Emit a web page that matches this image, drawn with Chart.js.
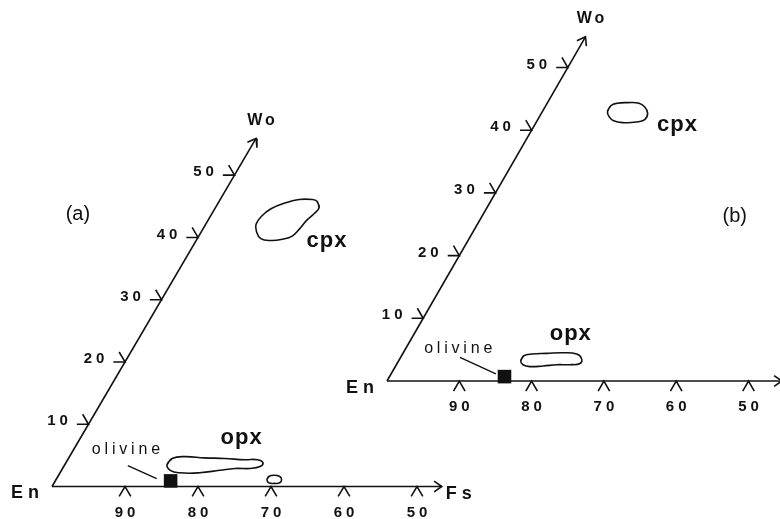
<!DOCTYPE html>
<html>
<head>
<meta charset="utf-8">
<script src="https://cdn.jsdelivr.net/npm/chart.js@4.4.1/dist/chart.umd.min.js"></script>
<style>
  html, body { margin: 0; padding: 0; background: #fff; }
  #wrap { position: relative; width: 780px; height: 519px; }
  #wrap canvas { position: absolute; left: 0; top: 0; }
</style>
</head>
<body>
<div id="wrap">
  <canvas id="chartA" width="780" height="519"></canvas>
  <canvas id="chartB" width="780" height="519"></canvas>
</div>
<script>
// compositions are [Fs, Wo] in mol % (En = 100 - Fs - Wo)
const woTicks = [10, 20, 30, 40, 50];
const enTicks = [90, 80, 70, 60, 50];

// panel (a)
const cpxA = [[13.4,45.8],[14.2,44.8],[14.0,43.8],[13.5,42.7],[13.2,41.3],[12.8,40.2],[11.7,39.7],[10.3,39.5],
              [8.7,39.8],[7.5,41.0],[6.9,42.1],[7.0,43.4],[7.7,44.6],[9.3,45.6],[10.8,46.1],[12.6,46.1]];
const opxA = [[14.0,3.5],[14.2,4.5],[15.8,4.8],[18.6,4.6],[21.4,4.5],[24.3,4.3],[26.0,4.3],[27.0,3.8],
              [26.9,3.2],[25.7,2.9],[23.6,2.9],[21.7,2.6],[19.1,2.2],[16.4,2.2],[14.9,2.6]];
const spotA = [[28.9,1.1],[28.9,1.6],[29.5,1.8],[30.4,1.6],[30.9,1.1],[30.9,0.6],[30.2,0.5],[29.4,0.6]];
const olivineA = [15.8, 0.9];

// panel (b)
const cpxB = [[9.0,43.0],[9.0,43.9],[9.7,44.3],[11.1,44.4],[12.7,44.3],[13.8,43.7],[14.7,42.7],[14.8,41.7],
              [13.8,41.3],[12.2,41.2],[10.6,41.5],[9.6,42.2]];
const opxB = [[16.9,3.2],[16.9,4.0],[17.9,4.3],[19.9,4.4],[22.1,4.5],[24.1,4.3],[25.1,3.6],[25.3,2.8],
              [24.0,2.6],[22.2,2.6],[20.4,2.4],[18.6,2.3],[17.5,2.6]];
const olivineB = [15.9, 0.7];

const INK = '#111';
const FONT = '"Liberation Sans", Arial, sans-serif';
const SQ = Math.sqrt(3) / 2;
const TL = 1.6; // tick leg length, mol %

function toXY(c) { return { x: c[0] + c[1] / 2, y: c[1] * SQ }; }
function closed(arr) { return arr.concat([arr[0], arr[1]]); }

function lineXY(points, extra) {
  return Object.assign({
    data: points, showLine: true, borderColor: INK, borderWidth: 1.6,
    pointRadius: 0, tension: 0, fill: false, clip: false
  }, extra || {});
}
function lineC(comps, extra) { return lineXY(comps.map(toXY), extra); }

function arrowHead(tip, dir) {
  const t = toXY(tip), a = 1.3, ang = 0.62;
  const legs = [-1, 1].map(s => {
    const c = Math.cos(s * ang), n = Math.sin(s * ang);
    const rx = -(dir[0] * c - dir[1] * n), ry = -(dir[0] * n + dir[1] * c);
    return { x: t.x + a * rx, y: t.y + a * ry };
  });
  return lineXY([legs[0], t, legs[1]]);
}

function buildPanel(p) {
  const sets = [];
  // axes
  sets.push(lineC([[0, 0], [p.fsEnd, 0]]));
  sets.push(lineC([[0, 0], [0, p.woEnd]]));
  sets.push(arrowHead([p.fsEnd, 0], [1, 0]));
  sets.push(arrowHead([0, p.woEnd], [0.5, SQ]));
  // ticks
  enTicks.forEach(e => {
    const f = 100 - e;
    sets.push(lineC([[f, -TL], [f, 0], [f + TL, -TL]]));
  });
  woTicks.forEach(w => sets.push(lineC([[-TL, w + TL], [0, w], [-TL, w]])));
  // fields
  p.fields.forEach(f => sets.push(lineC(closed(f), { tension: 0.45 })));
  // olivine
  sets.push(lineC(p.leader, { borderWidth: 1.4 }));
  sets.push({
    data: [toXY(p.olivine)], pointStyle: 'rect', pointRadius: 9.6,
    backgroundColor: INK, borderColor: INK, borderWidth: 0, clip: false
  });
  return sets;
}

const textPlugin = {
  id: 'ternaryText',
  afterDatasetsDraw(chart, args, opts) {
    const ctx = chart.ctx, sx = chart.scales.x, sy = chart.scales.y;
    const put = (comp, dx, dy, text, font, spacing) => {
      const q = toXY(comp);
      ctx.save();
      ctx.font = font;
      ctx.fillStyle = INK;
      ctx.textAlign = 'center';
      ctx.textBaseline = 'middle';
      ctx.letterSpacing = spacing + 'px';
      ctx.fillText(text, sx.getPixelForValue(q.x) + dx + spacing / 2, sy.getPixelForValue(q.y) + dy);
      ctx.restore();
    };
    const tickFont = 'bold 15px ' + FONT;
    woTicks.forEach(w => put([0, w], -31, -3, String(w), tickFont, 4));
    enTicks.forEach(e => put([100 - e, 0], 0, 26, String(e), tickFont, 4));
    put([0, 0], -27, 7, 'En', 'bold 18px ' + FONT, 5);
    if (opts.showFs) put([opts.fsEnd, 0], 17, 8, 'Fs', 'bold 18px ' + FONT, 5);
    put([0, opts.woEnd], 5, -18, 'Wo', 'bold 16px ' + FONT, 3);
    opts.notes.forEach(n => put(n.at, 0, 0, n.text, n.font, n.spacing || 0));
  }
};

function makeChart(p) {
  const [ox, oy] = p.origin, [ux, uy] = p.unit;
  new Chart(document.getElementById(p.canvas), {
    type: 'scatter',
    data: { datasets: buildPanel(p) },
    options: {
      responsive: false,
      animation: false,
      events: [],
      layout: { padding: 0, autoPadding: false },
      plugins: {
        legend: { display: false },
        tooltip: { enabled: false },
        ternaryText: { notes: p.notes, fsEnd: p.fsEnd, woEnd: p.woEnd, showFs: p.showFs }
      },
      scales: {
        x: { type: 'linear', display: false, min: -ox / ux, max: (780 - ox) / ux },
        y: { type: 'linear', display: false, min: -(519 - oy) / uy, max: oy / uy }
      }
    },
    plugins: [textPlugin]
  });
}

const noteFont = '16px ' + FONT;
const fieldFont = 'bold 22px ' + FONT;

makeChart({
  canvas: 'chartA', origin: [52, 486.5], unit: [7.3, 7.19],
  fsEnd: 53.4, woEnd: 55.9, showFs: true,
  fields: [cpxA, opxA, spotA], olivine: olivineA,
  leader: [[8.7, 3.36], [13.7, 1.28]],
  notes: [
    { text: 'cpx', at: [17.9, 39.4], font: fieldFont, spacing: 1 },
    { text: 'opx', at: [22.0, 7.8], font: fieldFont, spacing: 1 },
    { text: 'olivine', at: [7.2, 5.86], font: noteFont, spacing: 3.8 },
    { text: '(a)', at: [-18.3, 43.7], font: '20px ' + FONT }
  ]
});

makeChart({
  canvas: 'chartB', origin: [387, 381], unit: [7.23, 7.24],
  fsEnd: 54.6, woEnd: 54.9, showFs: false,
  fields: [cpxB, opxB], olivine: olivineB,
  leader: [[8.2, 3.78], [14.5, 1.12]],
  notes: [
    { text: 'cpx', at: [19.7, 40.8], font: fieldFont, spacing: 1 },
    { text: 'opx', at: [21.6, 7.5], font: fieldFont, spacing: 1 },
    { text: 'olivine', at: [7.3, 5.1], font: noteFont, spacing: 3.8 },
    { text: '(b)', at: [35.0, 26.2], font: '20px ' + FONT }
  ]
});
</script>
</body>
</html>
